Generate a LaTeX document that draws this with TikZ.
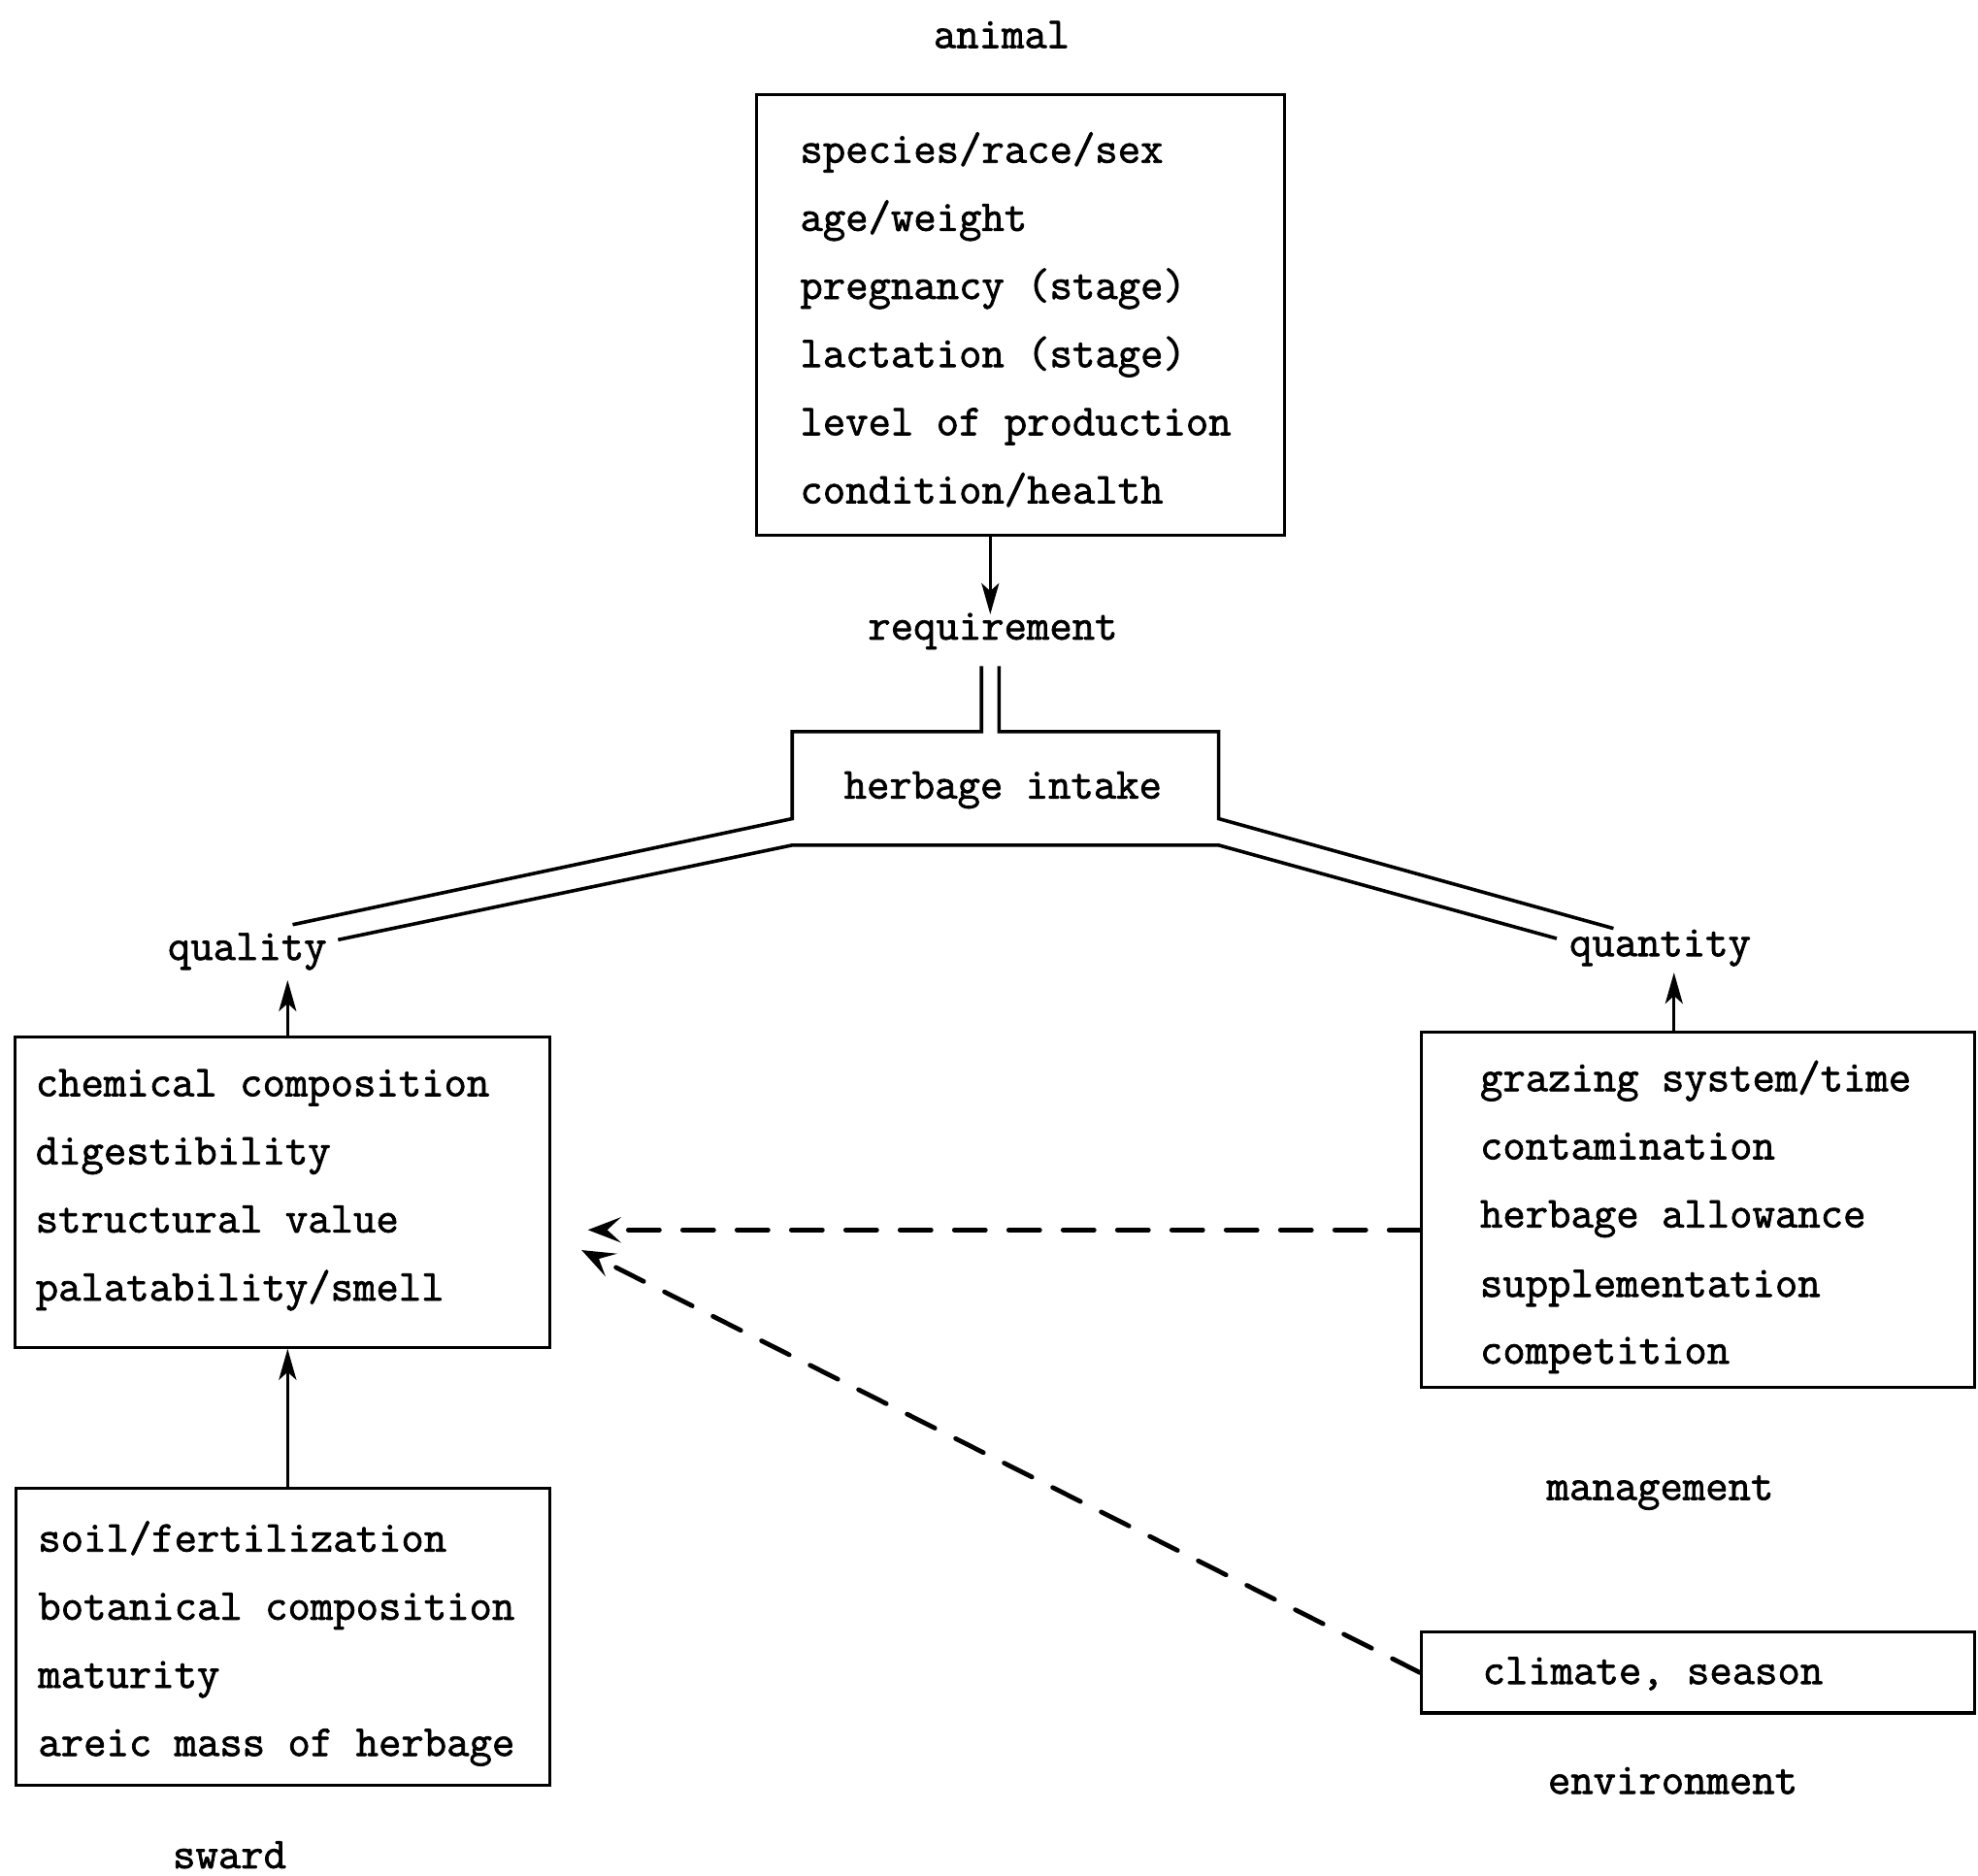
\documentclass[tikz,border=0pt]{standalone}
\usepackage{fontspec}
\newfontfamily\tw[FakeBold=1.6]{Latin Modern Mono}
\usetikzlibrary{arrows.meta}
\begin{document}
\begin{tikzpicture}[x=0.65pt,y=-0.65pt,
  box/.style={draw, line width=1.6pt, inner sep=0pt},
  txt/.style={font=\tw\fontsize{22.7pt}{35.1pt}\selectfont, inner sep=0pt, anchor=base west},
  lbl/.style={font=\tw\fontsize{22.7pt}{35.1pt}\selectfont, inner sep=0pt, anchor=base},
  arr/.style={line width=1.7pt, -{Stealth[length=16pt,width=9pt,inset=4pt]}},
  dsh/.style={line width=2.4pt, line cap=round, dash pattern=on 16pt off 12pt,
              -{Stealth[length=17pt,width=13pt,inset=7pt]}},
  dbl/.style={line width=1.8pt, line join=miter}]
\useasboundingbox (0,0) rectangle (1568,1487);

% ---------- animal ----------
\node[lbl] (animal) at (794,38) {animal};
\node[box, minimum width=418*0.65pt, minimum height=349*0.65pt] (an) at (809,249.5) {};
\node[txt] (a1) at (634,129) {species/race/sex};
\node[txt] (a2) at (634,183) {age/weight};
\node[txt] (a3) at (634,237) {pregnancy (stage)};
\node[txt] (a4) at (634,291) {lactation (stage)};
\node[txt] (a5) at (634,345) {level of production};
\node[txt] (a6) at (634,399) {condition/health};

\node[lbl] (req) at (787,507) {requirement};
\coordinate (reqtip) at (785,487);
\draw[arr] (an.south -| reqtip) -- (reqtip);

% ---------- herbage intake ----------
\node[lbl] (hi) at (795,633) {herbage intake};
\coordinate (dl) at (778,528);
\coordinate (dr) at (792,528);
\coordinate (qu1) at (232,733);
\coordinate (qu2) at (268,745);
\coordinate (qn1) at (1279,736);
\coordinate (qn2) at (1234,744);
\draw[dbl] (dl) -- (778,580) -- (628,580) -- (628,649) -- (qu1);
\draw[dbl] (dr) -- (792,580) -- (966,580) -- (966,649) -- (qn1);
\draw[dbl] (qu2) -- (628,670) -- (966,670) -- (qn2);

\node[lbl] (quality) at (196,761) {quality};
\node[lbl] (quantity) at (1316,758) {quantity};

% ---------- chemical box ----------
\node[box, minimum width=424*0.65pt, minimum height=246*0.65pt] (ch) at (224,945) {};
\node[txt] (c1) at (28,869) {chemical composition};
\node[txt] (c2) at (28,923) {digestibility};
\node[txt] (c3) at (28,977) {structural value};
\node[txt] (c4) at (28,1031) {palatability/smell};
\coordinate (qltip) at (228,777);
\draw[arr] (ch.north -| qltip) -- (qltip);

% ---------- sward box ----------
\node[box, minimum width=423*0.65pt, minimum height=235*0.65pt] (sw) at (224.5,1297.5) {};
\node[txt] (s1) at (30,1230) {soil/fertilization};
\node[txt] (s2) at (30,1284) {botanical composition};
\node[txt] (s3) at (30,1338) {maturity};
\node[txt] (s4) at (30,1392) {areic mass of herbage};
\node[lbl] (sward) at (182,1481) {sward};
\coordinate (swx) at (228,1180);
\draw[arr] (sw.north -| swx) -- (ch.south -| swx);

% ---------- management box ----------
\node[box, minimum width=438*0.65pt, minimum height=282*0.65pt] (mg) at (1346,959) {};
\node[txt] (m1) at (1173,865) {grazing system/time};
\node[txt] (m2) at (1173,919) {contamination};
\node[txt] (m3) at (1173,973) {herbage allowance};
\node[txt] (m4) at (1173,1028) {supplementation};
\node[txt] (m5) at (1173,1081) {competition};
\node[lbl] (mgl) at (1316,1189) {management};
\coordinate (qntip) at (1327,771);
\draw[arr] (mg.north -| qntip) -- (qntip);

% ---------- climate box ----------
\node[box, minimum width=438*0.65pt, minimum height=64*0.65pt] (cl) at (1346,1326) {};
\node[txt] (cl1) at (1175,1335) {climate, season};
\node[lbl] (env) at (1326,1422) {environment};

% ---------- dashed influences ----------
\coordinate (tipA) at (466,975);
\coordinate (tipB) at (461,991);
\draw[dsh] (mg.west |- tipA) -- (tipA);
\draw[dsh] (cl.west) -- (tipB);
\end{tikzpicture}
\end{document}
